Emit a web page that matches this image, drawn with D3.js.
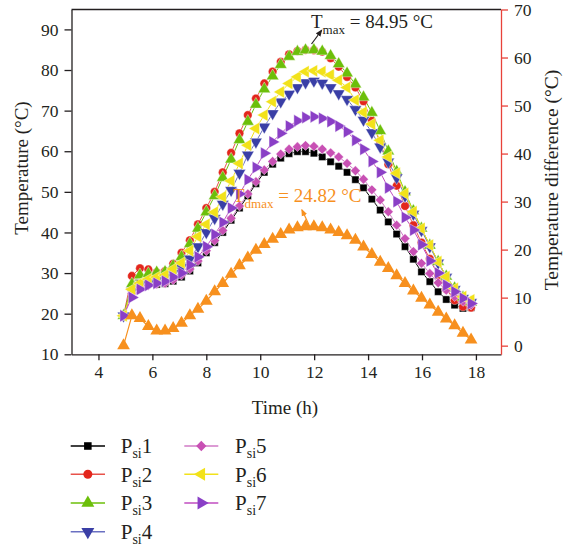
<!DOCTYPE html>
<html><head><meta charset="utf-8">
<script src="https://cdn.jsdelivr.net/npm/d3@7"></script>
<style>
body{margin:0;background:#fff;}
svg{display:block;}
svg text{font-family:"Liberation Serif","DejaVu Serif",serif !important;fill:#231f20;}
</style>
</head><body>
<svg id="c" width="569" height="546"></svg>
<script>
// ---- data ----
const times = [4.93,5.24,5.54,5.85,6.16,6.47,6.77,7.08,7.39,7.69,8.00,8.31,8.61,8.92,9.23,9.54,9.84,10.15,10.46,10.76,11.07,11.38,11.68,11.99,12.30,12.61,12.91,13.22,13.53,13.83,14.14,14.45,14.75,15.06,15.37,15.68,15.98,16.29,16.60,16.90,17.21,17.52,17.82];
const psi1 = [19.5,26.0,27.5,27.6,27.2,27.4,28.0,29.0,30.5,32.5,35.0,37.5,40.0,43.0,46.0,49.0,52.0,54.8,56.8,58.3,59.4,59.9,59.9,59.5,58.6,57.4,56.3,54.8,53.0,51.0,48.2,45.5,42.6,39.6,36.5,33.4,30.3,27.9,25.4,23.5,22.1,21.3,21.5];
const psi2 = [19.5,29.3,31.2,30.9,30.2,30.5,32.3,35.0,38.1,42.0,46.0,50.0,54.8,59.6,64.4,68.9,73.0,76.7,79.6,82.0,83.9,84.7,84.95,84.9,84.5,82.9,80.8,78.3,75.7,72.3,67.5,62.0,56.8,51.5,46.5,41.8,37.5,33.5,29.5,26.0,23.3,21.7,21.5];
const psi3 = [19.5,27.3,29.5,29.8,30.2,30.3,31.8,34.0,37.2,41.0,45.0,49.0,53.5,58.0,62.8,67.3,71.5,75.3,78.5,81.3,83.3,84.5,84.9,84.95,84.6,83.5,81.5,79.2,76.5,73.3,69.5,65.0,60.0,55.0,50.0,45.3,41.0,36.8,32.8,29.2,26.3,24.0,22.8];
const psi4 = [19.5,25.5,27.0,27.5,28.3,29.0,30.0,31.5,33.5,36.5,40.0,43.5,47.0,50.4,54.6,59.1,62.3,66.0,69.3,72.2,74.1,75.7,76.9,77.3,76.8,75.7,74.2,72.8,70.3,67.7,64.6,61.1,57.4,53.5,49.0,44.5,40.5,36.5,32.5,29.0,26.0,23.8,22.8];
const psi5 = [19.5,25.0,26.5,27.0,27.3,27.5,28.3,29.5,31.0,33.0,35.5,38.0,40.5,43.5,46.5,49.5,52.5,55.4,57.5,59.3,60.5,61.1,61.4,61.2,60.5,59.6,58.6,57.0,55.2,53.1,50.5,48.0,45.1,41.8,38.5,35.3,32.4,29.9,27.6,25.8,24.2,23.0,22.1];
const psi6 = [19.5,26.0,27.5,28.5,29.0,29.5,31.0,32.5,35.5,39.0,42.0,45.0,48.8,52.7,57.0,61.5,65.6,68.9,72.2,74.6,76.7,78.3,79.6,79.8,79.6,78.8,77.5,75.7,72.6,69.6,66.7,62.7,58.6,54.6,49.6,45.1,41.0,36.9,32.8,29.1,26.2,24.2,23.4];
const psi7 = [19.5,24.0,26.0,27.0,27.5,28.0,29.0,30.0,32.0,34.0,36.5,39.5,42.5,46.0,49.5,53.0,56.0,59.5,62.3,64.4,66.2,67.5,68.3,68.5,68.1,67.3,66.2,64.8,62.7,60.5,57.5,54.8,51.0,47.6,43.7,40.6,37.0,33.0,30.0,27.0,25.4,23.8,22.5];
const tdiff = [0.0,6.25,5.7,4.0,3.1,3.1,3.6,4.7,6.25,7.6,9.3,11.25,13.0,14.9,16.7,18.3,19.9,21.1,22.2,23.2,24.1,24.6,24.82,24.8,24.6,24.1,23.6,22.9,22.0,20.6,19.0,17.4,16.1,14.6,13.0,11.4,9.9,8.5,7.0,5.6,4.2,2.6,1.2];
const xTicks = [4,6,8,10,12,14,16,18];
const yLeftTicks = [10,20,30,40,50,60,70,80,90];
const yRightTicks = [0,10,20,30,40,50,60,70];
const seriesNames = ["1","2","3","4","5","6","7"];

// ---- styles ----
const series = [
  {name:"1", vals:psi1, color:"#000000", line:"#000000", sym:d3.symbolSquare, size:52, rot:0},
  {name:"2", vals:psi2, color:"#e3261c", line:"#e8524a", sym:d3.symbolCircle, size:58, rot:0},
  {name:"3", vals:psi3, color:"#6cbf0a", line:"#6cbf0a", sym:d3.symbolTriangle, size:66, rot:0},
  {name:"4", vals:psi4, color:"#3a3fa6", line:"#6a70c2", sym:d3.symbolTriangle, size:66, rot:180},
  {name:"5", vals:psi5, color:"#c850b4", line:"#d07ac6", sym:d3.symbolSquare, size:48, rot:45},
  {name:"6", vals:psi6, color:"#f2e21a", line:"#f2e21a", sym:d3.symbolTriangle, size:66, rot:-90},
  {name:"7", vals:psi7, color:"#8a3fc6", line:"#c04cc0", sym:d3.symbolTriangle, size:66, rot:90}
];
const orange = "#f7901e";
const redAxis = "#e8423a";
const FONT = "Liberation Serif, DejaVu Serif, serif";

const svg = d3.select("#c");
const L = 71.5, R = 501, T = 9.5, B = 354.3;
const x = d3.scaleLinear().domain([3, 18.93]).range([L, R]);
const yL = d3.scaleLinear().domain([10, 94.9]).range([B, T]);
const yR = d3.scaleLinear().domain([-1.8, 70]).range([B, T]);

// frame top
svg.append("line").attr("x1",L).attr("x2",R).attr("y1",T).attr("y2",T).attr("stroke","#231f20").attr("stroke-width",1.3);

// axes
const gx = svg.append("g").attr("transform",`translate(0,${B})`)
  .call(d3.axisBottom(x).tickValues(xTicks).tickSize(6).tickSizeOuter(0).tickPadding(5));
const gl = svg.append("g").attr("transform",`translate(${L},0)`)
  .call(d3.axisLeft(yL).tickValues(yLeftTicks).tickSize(7).tickSizeOuter(0).tickPadding(6));
const gr = svg.append("g").attr("transform",`translate(${R},0)`)
  .call(d3.axisRight(yR).tickValues(yRightTicks).tickSize(7).tickSizeOuter(0).tickPadding(6));
[gx,gl].forEach(g=>{
  g.select(".domain").attr("stroke","#231f20").attr("stroke-width",1.3);
  g.selectAll(".tick line").attr("stroke","#231f20").attr("stroke-width",1.3);
});
gr.select(".domain").attr("stroke",redAxis).attr("stroke-width",1.3);
gr.selectAll(".tick line").attr("stroke",redAxis).attr("stroke-width",1.3);
[gx,gl,gr].forEach(g=>{
  g.attr("font-family",FONT).attr("font-size",17);
  g.selectAll(".tick text").style("font-family",FONT).style("font-size","17.5px").attr("fill","#231f20");
});

// axis titles
svg.append("text").attr("x",285).attr("y",414).attr("text-anchor","middle").attr("font-size","19px").text("Time (h)");
svg.append("text").attr("transform","translate(28,168) rotate(-90)").attr("text-anchor","middle").attr("font-size","19px").text("Temperature (°C)");
svg.append("text").attr("transform","translate(558,180) rotate(-90)").attr("text-anchor","middle").attr("font-size","19.5px").text("Temperature difference (°C)");

// series
const pts = times.map((t,i)=>i);
series.forEach(s=>{
  const line = d3.line().x(i=>x(times[i])).y(i=>yL(s.vals[i]));
  svg.append("path").attr("d",line(pts)).attr("fill","none").attr("stroke",s.line).attr("stroke-width",1);
});
series.forEach(s=>{
  const sym = d3.symbol().type(s.sym).size(s.size);
  svg.append("g").selectAll("path").data(pts).join("path")
    .attr("d",sym)
    .attr("transform",i=>`translate(${x(times[i])},${yL(s.vals[i])}) rotate(${s.rot})`)
    .attr("fill",s.color).attr("stroke","#ffffff").attr("stroke-width",0.4);
});
// temperature difference
{
  const line = d3.line().x(i=>x(times[i])).y(i=>yR(tdiff[i]));
  svg.append("path").attr("d",line(pts)).attr("fill","none").attr("stroke",orange).attr("stroke-width",1.2);
  const sym = d3.symbol().type(d3.symbolTriangle).size(70);
  svg.append("g").selectAll("path").data(pts).join("path")
    .attr("d",sym)
    .attr("transform",i=>`translate(${x(times[i])},${yR(tdiff[i])})`)
    .attr("fill",orange);
}

// annotations
const defs = svg.append("defs");
function marker(id,color){
  defs.append("marker").attr("id",id).attr("viewBox","0 0 10 10").attr("refX",8).attr("refY",5)
    .attr("markerWidth",6).attr("markerHeight",6).attr("orient","auto")
    .append("path").attr("d","M0,1 L10,5 L0,9 Z").attr("fill",color);
}
marker("ab","#231f20"); marker("ao",orange);
svg.append("line").attr("x1",311.5).attr("y1",44).attr("x2",321.5).attr("y2",30.5)
  .attr("stroke","#231f20").attr("stroke-width",1.2).attr("marker-end","url(#ab)");
svg.append("line").attr("x1",310).attr("y1",227).attr("x2",302).attr("y2",210)
  .attr("stroke",orange).attr("stroke-width",1.2).attr("marker-end","url(#ao)");

const tm = svg.append("text").attr("x",311).attr("y",28).attr("font-size","19px");
tm.append("tspan").text("T");
tm.append("tspan").attr("font-size","13px").attr("dy",6).text("max");
tm.append("tspan").attr("dy",-6).text(" = 84.95 °C");

const td = svg.append("text").attr("x",233).attr("y",202).attr("font-size","19px").style("fill",orange);
td.append("tspan").style("fill",orange).text("T");
td.append("tspan").style("fill",orange).attr("font-size","13px").attr("dy",6).text("dmax");
td.append("tspan").style("fill",orange).attr("dy",-6).text(" = 24.82 °C");

// legend
const legRows = [446,474.3,503,531.7];
series.forEach((s,k)=>{
  const col = k<4?0:1, row = k<4?k:k-4;
  const x1 = col===0?70.7:184.3, x2 = col===0?105:218.3, mx = (x1+x2)/2, tx = col===0?120.7:235;
  const yy = legRows[row];
  const g = svg.append("g");
  g.append("line").attr("x1",x1).attr("x2",x2).attr("y1",yy).attr("y2",yy).attr("stroke",s.line).attr("stroke-width",1.5);
  g.append("path").attr("d",d3.symbol().type(s.sym).size(s.size*1.1)).attr("transform",`translate(${mx},${yy}) rotate(${s.rot})`).attr("fill",s.color);
  const t = g.append("text").attr("x",tx).attr("y",yy+7.3).attr("font-size","21px");
  t.append("tspan").text("P");
  t.append("tspan").attr("font-size","14px").attr("dy",5).text("si");
  t.append("tspan").attr("dy",-5).text(seriesNames[k]);
});
</script>
</body></html>
